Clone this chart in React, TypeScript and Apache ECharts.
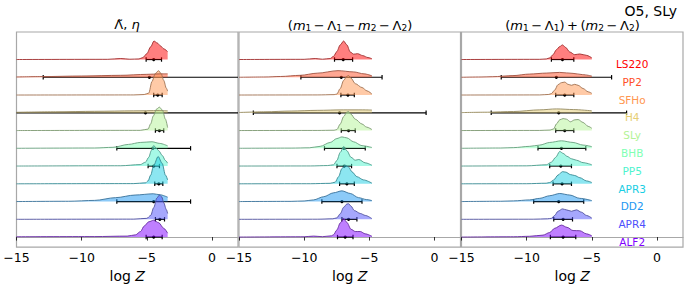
import React, { useEffect, useRef } from "react";
import * as echarts from "echarts";

// ---------- data ----------
const MODELS = ["LS220", "PP2", "SFHo", "H4", "SLy", "BHB", "PP5", "APR3", "DD2", "APR4", "ALF2"];
const COLORS = ["#ff0000", "#ff4f28", "#ff964f", "#e6ce74", "#b3f396", "#80ffb4", "#4df3ce", "#1acee3", "#1a96f2", "#4d4ffc", "#8000ff"];
const X_MIN = -15;
const X_MAX = 2;
const X_STEP = 5;
const X_TICKS = [-15, -10, -5, 0];

// density curves: [logZ, density] points per model (panel 1: Lambda-tilde, eta)
const P1_DENSITY: number[][][] = [
  [[-15, 0], [-8, 0.2], [-7, 1], [-6.3, 0.3], [-5.6, 0.6], [-5.3, 2], [-5.0, 6], [-4.7, 13], [-4.45, 19], [-4.2, 17], [-3.95, 14], [-3.7, 11], [-3.4, 8]],
  [[-15, 0.3], [-13, 0.7], [-10, 1.3], [-7, 2], [-5, 3], [-4, 3.5], [-3.4, 3.5]],
  [[-15, 0], [-6, 0.1], [-5.2, 0.5], [-4.85, 2], [-4.6, 14], [-4.35, 22], [-4.1, 25], [-3.9, 22], [-3.7, 15], [-3.5, 7], [-3.4, 4]],
  [[-15, 0.5], [-12, 1], [-9, 1.5], [-6, 2], [-4, 2.3], [-3.4, 2]],
  [[-15, 0], [-5.5, 0.2], [-4.9, 1.5], [-4.7, 7], [-4.5, 15], [-4.25, 22], [-4.03, 24], [-3.8, 21], [-3.57, 11.7], [-3.4, 3]],
  [[-15, 0], [-9, 0.3], [-7.6, 1], [-6.4, 4], [-5.5, 6], [-4.6, 6.7], [-4, 5], [-3.4, 2.5]],
  [[-15, 0], [-7, 0.3], [-5.5, 1.5], [-5.1, 4], [-4.85, 9], [-4.65, 16], [-4.47, 21], [-4.25, 18], [-4.08, 15.7], [-3.82, 11], [-3.57, 5.7], [-3.4, 3]],
  [[-15, 0], [-6, 0.2], [-5.1, 1], [-4.9, 3], [-4.7, 9], [-4.47, 19], [-4.13, 28], [-3.82, 21], [-3.57, 9], [-3.4, 4]],
  [[-15, 0], [-11, 0.3], [-9, 1.2], [-7.4, 4], [-5.9, 6.7], [-4.5, 8], [-4, 7], [-3.4, 4.5]],
  [[-15, 0], [-6, 0.2], [-5, 1], [-4.7, 4], [-4.47, 12], [-4.22, 22], [-4.03, 25], [-3.85, 23], [-3.7, 17], [-3.5, 10], [-3.4, 6]],
  [[-15, 0.3], [-9, 0.5], [-6.5, 1], [-5.86, 2.3], [-5.48, 5.7], [-5.2, 11.3], [-4.85, 15.7], [-4.47, 17.3], [-4.08, 14.7], [-3.7, 9], [-3.4, 4]],
];
// panel 2: (m1 - L1 - m2 - L2)
const P2_DENSITY: number[][][] = [
  [[-15, 0], [-10, 0.2], [-9.15, 1], [-8.6, 0.3], [-8.0, 1], [-7.74, 3.3], [-7.5, 8], [-7.23, 15], [-6.97, 19], [-6.72, 15], [-6.46, 7.7], [-6.2, 5.5], [-5.9, 6], [-5.5, 4], [-5.1, 2], [-4.8, 0.8]],
  [[-15, 0], [-13, 0.3], [-11.8, 0.8], [-10.3, 2], [-9, 4.2], [-7.4, 6.8], [-6.2, 5.5], [-5.4, 3.5], [-4.8, 1.5]],
  [[-15, 0], [-9, 0.1], [-7.7, 0.4], [-7.49, 1], [-7.23, 6.7], [-6.97, 15], [-6.72, 19.3], [-6.59, 20], [-6.4, 17.3], [-6.08, 11.7], [-5.56, 7.7], [-5.18, 4.3], [-4.8, 1]],
  [[-15, 0.3], [-13, 1], [-11, 1.8], [-9, 2.5], [-7, 3], [-5.5, 3], [-4.8, 2.8]],
  [[-15, 0], [-9, 0.1], [-7.7, 0.3], [-7.49, 1], [-7.23, 6.7], [-6.97, 14.3], [-6.72, 19], [-6.6, 19.5], [-6.4, 16.7], [-6.08, 11.7], [-5.56, 6.7], [-5.2, 3.5], [-4.8, 1]],
  [[-15, 0], [-11, 0.2], [-9.6, 0.5], [-8.77, 2], [-8.0, 6], [-7.49, 10], [-7.1, 11.7], [-6.72, 10.7], [-6.21, 6.7], [-5.56, 2.7], [-4.8, 0.8]],
  [[-15, 0], [-9.5, 0.1], [-8.2, 0.5], [-7.74, 1.3], [-7.49, 5.7], [-7.23, 14], [-6.97, 20], [-6.72, 15.7], [-6.4, 9], [-6.08, 6], [-5.8, 6.7], [-5.31, 3.3], [-4.8, 0.8]],
  [[-15, 0], [-9.5, 0.1], [-8, 0.5], [-7.62, 1.7], [-7.36, 7.3], [-7.1, 15.7], [-6.85, 19], [-6.59, 17.3], [-6.33, 12.3], [-5.95, 7.3], [-5.44, 4], [-4.8, 0.7]],
  [[-15, 0], [-11, 0.2], [-10, 0.6], [-9.28, 1.7], [-8.5, 5], [-7.74, 9], [-7.1, 11], [-6.46, 8.3], [-5.82, 4], [-5.2, 2], [-4.8, 1]],
  [[-15, 0], [-9, 0.1], [-7.8, 0.5], [-7.49, 1.5], [-7.23, 5.7], [-6.97, 12.3], [-6.72, 15.7], [-6.59, 16], [-6.4, 13.5], [-6.15, 9], [-5.69, 6], [-5.31, 4], [-4.8, 0.7]],
  [[-15, 0], [-10, 0.3], [-9.28, 1], [-8.6, 0.4], [-7.9, 1.3], [-7.74, 2.5], [-7.49, 7.3], [-7.23, 14.5], [-6.97, 19], [-6.72, 15], [-6.4, 8], [-6.08, 5.7], [-5.69, 5.7], [-5.31, 3.3], [-4.8, 0.8]],
];
// panel 3: (m1 - L1) + (m2 - L2)
const P3_DENSITY: number[][][] = [
  [[-15, 0], [-9, 0.2], [-8.49, 0.6], [-8.23, 1.7], [-7.97, 5], [-7.72, 10], [-7.46, 13.3], [-7.25, 15], [-7.0, 12.3], [-6.69, 7.7], [-6.31, 5], [-5.92, 5.7], [-5.41, 4.3], [-5.0, 1.7]],
  [[-15, 0], [-13.5, 0.3], [-12.6, 0.6], [-11.05, 1.7], [-9.77, 3.3], [-8.49, 4.3], [-7.46, 5], [-6.44, 4], [-5.7, 2.7], [-5.0, 1.3]],
  [[-15, 0], [-9, 0.1], [-8.3, 0.6], [-8.1, 1.5], [-7.85, 5], [-7.59, 10.7], [-7.33, 12.7], [-7.08, 13.3], [-6.82, 11], [-6.56, 10], [-6.31, 11], [-6.05, 10], [-5.67, 6.7], [-5.28, 3.3], [-5.0, 1.7]],
  [[-15, 0.2], [-13, 0.6], [-11, 1.3], [-9, 3], [-7.7, 4], [-6.4, 3.3], [-5.0, 2]],
  [[-15, 0], [-9, 0.1], [-8.2, 0.5], [-7.92, 1.7], [-7.72, 6.7], [-7.46, 11], [-7.2, 12.3], [-6.95, 11.7], [-6.64, 9], [-6.31, 11], [-6.05, 11.3], [-5.67, 8.3], [-5.28, 4.3], [-5.0, 2.3]],
  [[-15, 0], [-12, 0.3], [-11, 0.7], [-9.77, 2], [-9.0, 3.3], [-8.23, 6], [-7.33, 7.7], [-6.44, 6], [-5.67, 3.3], [-5.0, 1.7]],
  [[-15, 0], [-10, 0.2], [-8.49, 1.3], [-8.1, 4], [-7.77, 9], [-7.46, 15], [-7.2, 13], [-6.9, 10], [-6.56, 7.5], [-6.18, 6], [-5.67, 3.5], [-5.0, 1.3]],
  [[-15, 0], [-10, 0.1], [-8.5, 0.6], [-8.23, 1.3], [-7.92, 4], [-7.59, 9], [-7.25, 12.5], [-7.0, 12], [-6.64, 9.5], [-6.31, 8.5], [-5.92, 6.3], [-5.41, 3], [-5.0, 1.3]],
  [[-15, 0], [-12, 0.3], [-11, 0.7], [-9.77, 1.7], [-9.0, 3.3], [-8.23, 6], [-7.46, 8.3], [-6.69, 6.7], [-5.92, 3.3], [-5.0, 1]],
  [[-15, 0], [-9.5, 0.1], [-8.4, 0.5], [-8.1, 1], [-7.85, 4], [-7.59, 8.3], [-7.25, 10.7], [-6.95, 9.7], [-6.56, 8.3], [-6.18, 9.7], [-5.79, 7.3], [-5.41, 4], [-5.0, 1.3]],
  [[-15, 0], [-11, 0.3], [-9.77, 0.8], [-8.74, 2], [-8.23, 4.7], [-7.85, 9], [-7.33, 12.3], [-6.9, 10], [-6.44, 6.7], [-5.92, 6.5], [-5.41, 3.3], [-5.0, 1.3]],
];

// error bars: [low, median, high]
const P1_ERRORS = [
  [-5.05, -4.47, -3.87], [-12.95, -4.8, 10], [-4.47, -4.16, -3.82], [-20, -5.1, 10],
  [-4.34, -4.03, -3.7], [-7.3, -4.54, -1.64], [-4.9, -4.47, -4.03], [-4.39, -4.08, -3.77],
  [-7.3, -4.47, -1.64], [-4.34, -4.0, -3.64], [-5.05, -4.47, -3.82],
];
const P2_ERRORS = [
  [-7.67, -7.0, -6.28], [-10.25, -7.15, -4.02], [-7.18, -6.64, -6.15], [-13.9, -7.28, -0.64],
  [-7.15, -6.59, -6.08], [-8.44, -6.95, -5.31], [-7.48, -6.92, -6.36], [-7.28, -6.72, -6.15],
  [-8.64, -7.1, -5.56], [-7.1, -6.59, -5.95], [-7.44, -6.85, -6.25],
];
const P3_ERRORS = [
  [-8.1, -7.25, -6.38], [-11.95, -7.72, -3.48], [-7.77, -7.08, -6.38], [-12.72, -7.54, -2.33],
  [-7.77, -7.08, -6.38], [-9.13, -7.33, -5.46], [-8.23, -7.38, -6.56], [-7.97, -7.28, -6.56],
  [-9.46, -7.54, -5.62], [-7.92, -7.2, -6.48], [-8.18, -7.2, -6.23],
];

// ---------- layout / style ----------
const FONT = '"DejaVu Sans"';
const DENSITY_SCALE = 1 / 18.24; // density unit -> row units
const GRID_TOP = 32;
const GRID_H = 221;
const GRID_W = 221.5;
const GRID_LEFTS = [16.5, 239, 461.5];
const Y_MIN = -0.565;
const Y_MAX = 11.55;
const LABEL_X = -1.9;

function mix(hex: string, other: string, t: number) {
  const a = parseInt(hex.slice(1), 16);
  const b = parseInt(other.slice(1), 16);
  const ch = (v: number, s: number) => (v >> s) & 255;
  const r = Math.round(ch(a, 16) * (1 - t) + ch(b, 16) * t);
  const g = Math.round(ch(a, 8) * (1 - t) + ch(b, 8) * t);
  const bl = Math.round(ch(a, 0) * (1 - t) + ch(b, 0) * t);
  return `rgb(${r},${g},${bl})`;
}

const errorRender = (params: any, api: any) => {
  const lo = api.value(0), mid = api.value(1), hi = api.value(2), y = api.value(3);
  const cs = params.coordSys;
  const pLo = api.coord([lo, y]);
  const pMid = api.coord([mid, y]);
  const pHi = api.coord([hi, y]);
  const xL = Math.max(pLo[0], cs.x);
  const xR = Math.min(pHi[0], cs.x + cs.width);
  const yy = pMid[1];
  const st = { stroke: "#000", lineWidth: 1.2 };
  const children: any[] = [
    { type: "line", shape: { x1: xL, y1: yy, x2: xR, y2: yy }, style: st },
  ];
  if (pLo[0] >= cs.x) children.push({ type: "line", shape: { x1: pLo[0], y1: yy - 2.2, x2: pLo[0], y2: yy + 2.2 }, style: st });
  if (pHi[0] <= cs.x + cs.width) children.push({ type: "line", shape: { x1: pHi[0], y1: yy - 2.2, x2: pHi[0], y2: yy + 2.2 }, style: st });
  children.push({ type: "circle", shape: { cx: pMid[0], cy: yy, r: 1.6 }, style: { fill: "#000" } });
  return { type: "group", children };
};

const labelRender = (params: any, api: any) => {
  const i = params.dataIndex;
  const p = api.coord([api.value(0), api.value(1)]);
  return {
    type: "text",
    x: p[0],
    y: p[1] + 4.7,
    style: {
      text: MODELS[i],
      fill: COLORS[i],
      font: `10.5px ${FONT}`,
      align: "center",
      verticalAlign: "middle",
      textAlign: "center",
      textVerticalAlign: "middle",
    },
  };
};

const tickFormatter = (v: number) => {
  if (Math.abs(v % X_STEP) > 1e-9) return "";
  return v < 0 ? "\u2212" + Math.abs(v) : String(v);
};

function buildOption() {
  const panels = [
    { dens: P1_DENSITY, err: P1_ERRORS },
    { dens: P2_DENSITY, err: P2_ERRORS },
    { dens: P3_DENSITY, err: P3_ERRORS },
  ];
  const n = MODELS.length;
  const series: any[] = [];
  panels.forEach((p, g) => {
    MODELS.forEach((m, i) => {
      const base = n - 1 - i;
      series.push({
        type: "line",
        name: m,
        xAxisIndex: g,
        yAxisIndex: g,
        data: p.dens[i].map(([x, h]) => [x, base + h * DENSITY_SCALE]),
        smooth: 0.3,
        smoothMonotone: "x",
        symbol: "none",
        silent: true,
        lineStyle: { color: mix(COLORS[i], "#505050", 0.55), width: 0.9 },
        areaStyle: { color: COLORS[i], opacity: 0.5, origin: base },
      });
      const e = p.err[i];
      series.push({
        type: "custom",
        xAxisIndex: g,
        yAxisIndex: g,
        silent: true,
        clip: true,
        data: [[e[0], e[1], e[2], base]],
        encode: { x: [0, 1, 2], y: 3 },
        renderItem: errorRender,
      });
    });
  });
  series.push({
    type: "custom",
    xAxisIndex: 2,
    yAxisIndex: 2,
    silent: true,
    data: MODELS.map((_, i) => [LABEL_X, n - 1 - i]),
    encode: { x: 0, y: 1 },
    renderItem: labelRender,
  });

  const grid = GRID_LEFTS.map((left) => ({
    left,
    top: GRID_TOP,
    width: GRID_W,
    height: GRID_H,
    show: true,
    borderColor: "#a8a8a8",
    borderWidth: 1.2,
    containLabel: false,
  }));
  const xAxis = GRID_LEFTS.map((_, g) => ({
    type: "value",
    gridIndex: g,
    min: X_MIN,
    max: X_MAX,
    interval: X_STEP,
    splitLine: { show: false },
    axisLine: { show: true, lineStyle: { color: "#a8a8a8", width: 1.2 } },
    axisTick: { show: true, length: 3.5, customValues: X_TICKS, lineStyle: { color: "#000", width: 0.8 } },
    axisLabel: {
      color: "#000",
      fontSize: 12.5,
      fontFamily: FONT,
      margin: 4,
      customValues: X_TICKS,
      formatter: tickFormatter,
    },
    name: "{a|log }{b|Z}",
    nameLocation: "middle",
    nameGap: 12,
    nameTextStyle: {
      rich: {
        a: { fontSize: 14, fontFamily: FONT, color: "#000" },
        b: { fontSize: 14, fontFamily: FONT, color: "#000", fontStyle: "italic" },
      },
    },
  }));
  const yAxis = GRID_LEFTS.map((_, g) => ({
    type: "value",
    gridIndex: g,
    min: Y_MIN,
    max: Y_MAX,
    show: false,
    splitLine: { show: false },
  }));

  const rich = {
    r: { fontSize: 13, fontFamily: FONT, fill: "#000", color: "#000", lineHeight: 13, verticalAlign: "middle" },
    i: { fontSize: 13, fontFamily: FONT, fill: "#000", color: "#000", fontStyle: "italic", lineHeight: 13, verticalAlign: "middle" },
    s: { fontSize: 9, fontFamily: FONT, fill: "#000", color: "#000", lineHeight: 7, verticalAlign: "bottom" },
  };
  const titleText = (x: number, y: number, text: string) => ({
    type: "text",
    x,
    y,
    silent: true,
    style: {
      text,
      rich,
      align: "center",
      verticalAlign: "middle",
      textAlign: "center",
      textVerticalAlign: "middle",
    },
  });
  const sp = "\u2009";
  const minus = `${sp}\u2212${sp}`;

  return {
    animation: false,
    grid,
    xAxis,
    yAxis,
    series,
    graphic: [
      titleText(127, 24, "{r|\u039B\u0303, }{i|\u03B7}"),
      titleText(350, 25.5, `{r|(}{i|m}{s|1}{r|${minus}\u039B}{s|1}{r|${minus}}{i|m}{s|2}{r|${minus}\u039B}{s|2}{r|)}`),
      titleText(572.5, 25.5, `{r|(}{i|m}{s|1}{r|${minus}\u039B}{s|1}{r|)${sp}+${sp}(}{i|m}{s|2}{r|${minus}\u039B}{s|2}{r|)}`),
      {
        type: "text",
        x: 677,
        y: 11,
        silent: true,
        style: {
          text: "O5, SLy",
          font: `14px ${FONT}`,
          fill: "#000",
          align: "right",
          verticalAlign: "middle",
          textAlign: "right",
          textVerticalAlign: "middle",
        },
      },
    ],
  };
}

export default function App() {
  const ref = useRef<HTMLDivElement>(null);
  useEffect(() => {
    if (!ref.current) return;
    const chart = echarts.init(ref.current, null, { renderer: "svg" });
    chart.setOption(buildOption() as any);
    return () => chart.dispose();
  }, []);
  return <div ref={ref} style={{ width: 690, height: 288, position: "absolute", left: 0, top: 0 }} />;
}
